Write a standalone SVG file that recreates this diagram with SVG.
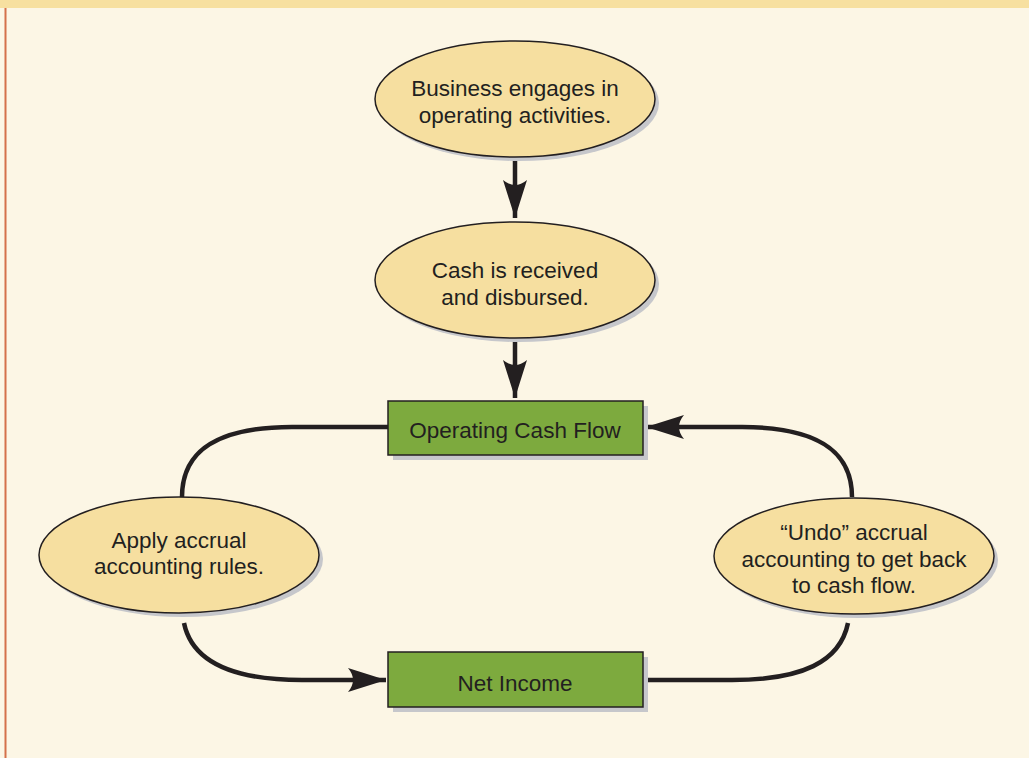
<svg xmlns="http://www.w3.org/2000/svg" width="1029" height="758" viewBox="0 0 1029 758">
<defs>
<style>
.el{fill:#f6dfa0;stroke:#231f20;stroke-width:1.5}
.sh{fill:#c6c7cb}
.bx{fill:#7daa3e;stroke:#231f20;stroke-width:1.5}
.t{font-family:"Liberation Sans",Arial,sans-serif;font-size:22.5px;fill:#231f20;text-anchor:middle}
.c{fill:none;stroke:#231f20;stroke-width:4.5}
</style>
<marker id="ah2" viewBox="0 0 40 24" refX="38" refY="12" markerWidth="40" markerHeight="24" markerUnits="userSpaceOnUse" orient="auto">
<path d="M38,12 L0,0 Q10,12 0,24 Z" fill="#231f20"/>
</marker>
</defs>
<rect x="0" y="0" width="1029" height="758" fill="#fcf6e5"/>
<rect x="0" y="0" width="1029" height="8" fill="#f7e0a0"/>
<line x1="5.5" y1="8" x2="5.5" y2="758" stroke="#d4714b" stroke-width="2"/>

<g id="connectors">
<path class="c" d="M515,157 L515,218" marker-end="url(#ah2)"/>
<path class="c" d="M515,337 L515,398" marker-end="url(#ah2)"/>
<path class="c" d="M182,497 C182,450 218,427 292,427 L388,427"/>
<path class="c" d="M184,623 C192,662 232,680 302,680 L386,680" marker-end="url(#ah2)"/>
<path class="c" d="M852,497 C852,450 816,427 742,427 L646,427" marker-end="url(#ah2)"/>
<path class="c" d="M848,623 C840,662 802,680 732,680 L643,680"/>
</g>

<g id="n1">
<ellipse class="sh" cx="519" cy="103" rx="140" ry="58"/>
<ellipse class="el" cx="515" cy="99" rx="140" ry="58"/>
<text class="t" x="515" y="96">Business engages in</text>
<text class="t" x="515" y="123">operating activities.</text>
</g>
<g id="n2">
<ellipse class="sh" cx="519" cy="284" rx="140" ry="58"/>
<ellipse class="el" cx="515" cy="280" rx="140" ry="58"/>
<text class="t" x="515" y="278">Cash is received</text>
<text class="t" x="515" y="305">and disbursed.</text>
</g>
<g id="n3">
<rect class="sh" x="393" y="406" width="255" height="54"/>
<rect class="bx" x="388" y="401" width="255" height="54"/>
<text class="t" x="515" y="438">Operating Cash Flow</text>
</g>
<g id="n4">
<ellipse class="sh" cx="183" cy="559" rx="140" ry="58"/>
<ellipse class="el" cx="179" cy="555" rx="140" ry="58"/>
<text class="t" x="179" y="548">Apply accrual</text>
<text class="t" x="179" y="574">accounting rules.</text>
</g>
<g id="n5">
<ellipse class="sh" cx="858" cy="560" rx="140" ry="58"/>
<ellipse class="el" cx="854" cy="556" rx="140" ry="58"/>
<text class="t" x="854" y="540">“Undo” accrual</text>
<text class="t" x="854" y="567">accounting to get back</text>
<text class="t" x="854" y="593">to cash flow.</text>
</g>
<g id="n6">
<rect class="sh" x="393" y="657" width="255" height="55"/>
<rect class="bx" x="388" y="652" width="255" height="55"/>
<text class="t" x="515" y="691">Net Income</text>
</g>
</svg>
